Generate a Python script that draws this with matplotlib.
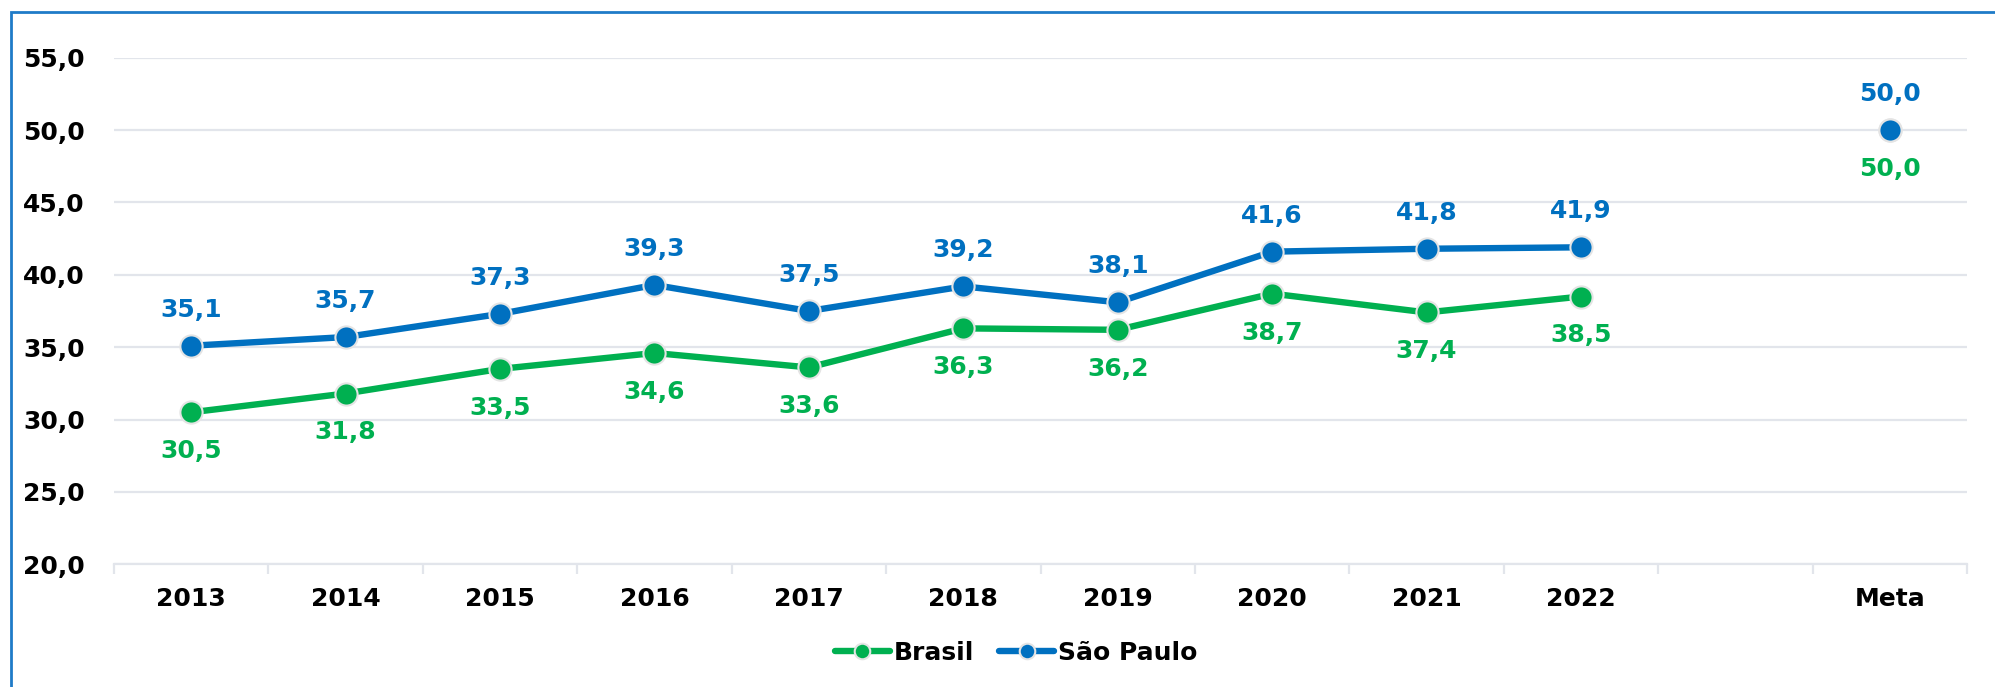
import matplotlib.pyplot as plt
from matplotlib.patches import Rectangle

categories = ['2013', '2014', '2015', '2016', '2017', '2018', '2019',
              '2020', '2021', '2022', '', 'Meta']
brasil = [30.5, 31.8, 33.5, 34.6, 33.6, 36.3, 36.2, 38.7, 37.4, 38.5, None, 50.0]
sao_paulo = [35.1, 35.7, 37.3, 39.3, 37.5, 39.2, 38.1, 41.6, 41.8, 41.9, None, 50.0]

green = '#00B050'
blue = '#0070C0'

def fmt(v):
    return f'{v:.1f}'.replace('.', ',')

plt.rcParams['font.family'] = 'DejaVu Sans'
plt.rcParams['font.weight'] = 'bold'

fig = plt.figure(figsize=(19.95, 6.87), dpi=100)
ax = fig.add_axes([114/1995, 1 - 564.3/687, (1967 - 114)/1995, (564.3 - 57.7)/687])

xs = list(range(len(categories)))
xb = [x for x, v in zip(xs, brasil) if v is not None]
yb = [v for v in brasil if v is not None]
xsp = [x for x, v in zip(xs, sao_paulo) if v is not None]
ysp = [v for v in sao_paulo if v is not None]

# lines only over the yearly values; Meta drawn as a lone point
n = 10
mk = dict(marker='o', ms=16, mec='#E4E4E4', mew=1.5)
ax.plot(xb[:n], yb[:n], color=green, mfc=green, lw=4.6, label='Brasil', zorder=3,
        solid_capstyle='round', **mk)
ax.plot(xsp[:n], ysp[:n], color=blue, mfc=blue, lw=4.6, label='São Paulo', zorder=4,
        solid_capstyle='round', **mk)
ax.plot(xb[n:], yb[n:], ls='none', mfc=green, zorder=3, **mk)
ax.plot(xsp[n:], ysp[n:], ls='none', mfc=blue, zorder=4, **mk)

for x, v in zip(xb, yb):
    ax.annotate(fmt(v), (x, v), xytext=(0, -28), textcoords='offset points',
                ha='center', va='center', color=green, fontsize=18, fontweight='bold')
for x, v in zip(xsp, ysp):
    ax.annotate(fmt(v), (x, v), xytext=(0, 26), textcoords='offset points',
                ha='center', va='center', color=blue, fontsize=18, fontweight='bold')

ax.set_xlim(-0.5, len(categories) - 0.5)
ax.set_ylim(20, 55)
yt = [20, 25, 30, 35, 40, 45, 50, 55]
ax.set_yticks(yt)
ax.set_yticklabels([fmt(v) for v in yt])
ax.set_xticks(xs)
ax.set_xticklabels(categories)
ax.set_xticks([x - 0.5 for x in range(len(categories) + 1)], minor=True)

ax.grid(axis='y', color='#E2E5EB', lw=1.6, zorder=0)
for s in ['top', 'right', 'left']:
    ax.spines[s].set_visible(False)
ax.spines['bottom'].set_color('#E2E5EB')
ax.spines['bottom'].set_linewidth(1.6)
ax.tick_params(axis='x', which='major', length=0, pad=16, labelsize=18)
ax.tick_params(axis='x', which='minor', length=7, width=1.6, color='#E2E5EB')
ax.tick_params(axis='y', length=0, pad=21, labelsize=18)
for lab in ax.get_xticklabels() + ax.get_yticklabels():
    lab.set_fontweight('bold')

fig.legend(loc='center', bbox_to_anchor=(1016/1995, 1 - 653/687), ncol=2, frameon=False,
           handlelength=2.2, columnspacing=1.0, handletextpad=0.15, markerscale=0.7,
           prop={'weight': 'bold', 'size': 18})

fig.patches.append(Rectangle((11/1995, -0.05), 1.1, 1 - 12/687 + 0.05,
                             transform=fig.transFigure, fill=False,
                             edgecolor='#1F7BC8', lw=2, figure=fig))

fig.savefig('out.png', dpi=100)
